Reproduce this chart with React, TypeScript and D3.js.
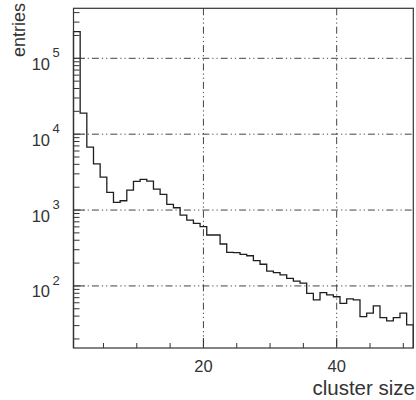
import React from "react";
import * as d3 from "d3";

// histogram: cluster size 1..51, entries per bin
const binCenters: number[] = Array.from({ length: 51 }, (_, i) => i + 1);
const entries: number[] = [
  224000, 18900, 6740, 4070, 2720, 1710, 1260, 1325, 1830, 2390,
  2540, 2410, 1890, 1610, 1190, 1072, 859, 738, 668, 603,
  469, 469, 357, 277, 274, 261, 250, 215, 193, 157,
  150, 140, 126, 116, 109, 80, 65.5, 81.7, 76, 72,
  59, 67.4, 65.5, 39.5, 43.8, 54.6, 38.3, 34.6, 38.3, 43.8,
  30.7,
];
const xMajorTicks: number[] = [20, 40];
const xMinorTicks: number[] = [5, 10, 15, 25, 30, 35, 45, 50];
const yDecades: number[] = [100, 1000, 10000, 100000];
const yExponents: string[] = ["2", "3", "4", "5"];

const W = 416;
const H = 400;
const L = 73.5;
const R = 413.3;
const T = 8.3;
const B = 348;

export default function App() {
  const x = d3.scaleLinear().domain([0.5, 51.5]).range([L, R]);
  const y = d3.scaleLog().domain([15.2, 456000]).range([B, T]);

  // step path
  let d = "";
  entries.forEach((v, i) => {
    const x0 = x(binCenters[i] - 0.5);
    const x1 = x(binCenters[i] + 0.5);
    const yy = y(v);
    if (i === 0) d += `M${x0},${B}L${x0},${yy}`;
    else d += `L${x0},${yy}`;
    d += `L${x1},${yy}`;
    if (i === entries.length - 1) d += `L${x1},${B}`;
  });

  // minor y ticks
  const yMinor: number[] = [];
  for (let e = 1; e <= 5; e++) {
    for (let m = 2; m <= 9; m++) {
      const v = m * Math.pow(10, e);
      if (v > 15.2 && v < 456000) yMinor.push(v);
    }
  }

  const font = "'Liberation Sans', Arial, Helvetica, sans-serif";
  const textColor = "#333";
  const gridDash = "7,3,1.2,3,1.2,3";

  return (
    <svg
      width={W}
      height={H}
      style={{ position: "absolute", left: 0, top: 0, background: "#fff" }}
      fontFamily={font}
    >
      <rect x={0} y={0} width={W} height={H} fill="#fff" />
      {/* grid */}
      {yDecades.map((v) => (
        <line
          key={"gy" + v}
          x1={L}
          x2={R}
          y1={y(v)}
          y2={y(v)}
          stroke="#444"
          strokeWidth={1}
          strokeDasharray={gridDash}
        />
      ))}
      {xMajorTicks.map((v) => (
        <line
          key={"gx" + v}
          x1={x(v)}
          x2={x(v)}
          y1={T}
          y2={B}
          stroke="#444"
          strokeWidth={1}
          strokeDasharray={gridDash}
        />
      ))}
      {/* histogram */}
      <path d={d} fill="none" stroke="#1e1e1e" strokeWidth={1.3} />
      {/* frame */}
      <rect x={L} y={T} width={R - L} height={B - T} fill="none" stroke="#333" strokeWidth={1.2} />
      {/* y ticks */}
      {yMinor.map((v) => (
        <line key={"ym" + v} x1={L} x2={L + 6} y1={y(v)} y2={y(v)} stroke="#333" strokeWidth={1} />
      ))}
      {yDecades.map((v) => (
        <line key={"yM" + v} x1={L} x2={L + 11} y1={y(v)} y2={y(v)} stroke="#333" strokeWidth={1} />
      ))}
      {/* x ticks */}
      {xMinorTicks.map((v) => (
        <line key={"xm" + v} x1={x(v)} x2={x(v)} y1={B} y2={B - 5} stroke="#333" strokeWidth={1} />
      ))}
      {xMajorTicks.map((v) => (
        <line key={"xM" + v} x1={x(v)} x2={x(v)} y1={B} y2={B - 10} stroke="#333" strokeWidth={1} />
      ))}
      {/* x tick labels */}
      {xMajorTicks.map((v) => (
        <text
          key={"xl" + v}
          x={x(v)}
          y={371.5}
          textAnchor="middle"
          fontSize={16.5}
          fill={textColor}
        >
          {String(v)}
        </text>
      ))}
      {/* y tick labels */}
      {yDecades.map((v, i) => (
        <g key={"yl" + v}>
          <text x={50} y={y(v) + 11.5} textAnchor="end" fontSize={16.5} fill={textColor}>
            10
          </text>
          <text x={52.5} y={y(v) - 1} textAnchor="start" fontSize={13} fill={textColor}>
            {yExponents[i]}
          </text>
        </g>
      ))}
      {/* axis titles */}
      <text x={415} y={395} textAnchor="end" fontSize={20.5} fill={textColor}>
        cluster size
      </text>
      <text
        transform="translate(25,3) rotate(-90)"
        textAnchor="end"
        fontSize={18}
        fill={textColor}
      >
        entries
      </text>
    </svg>
  );
}
